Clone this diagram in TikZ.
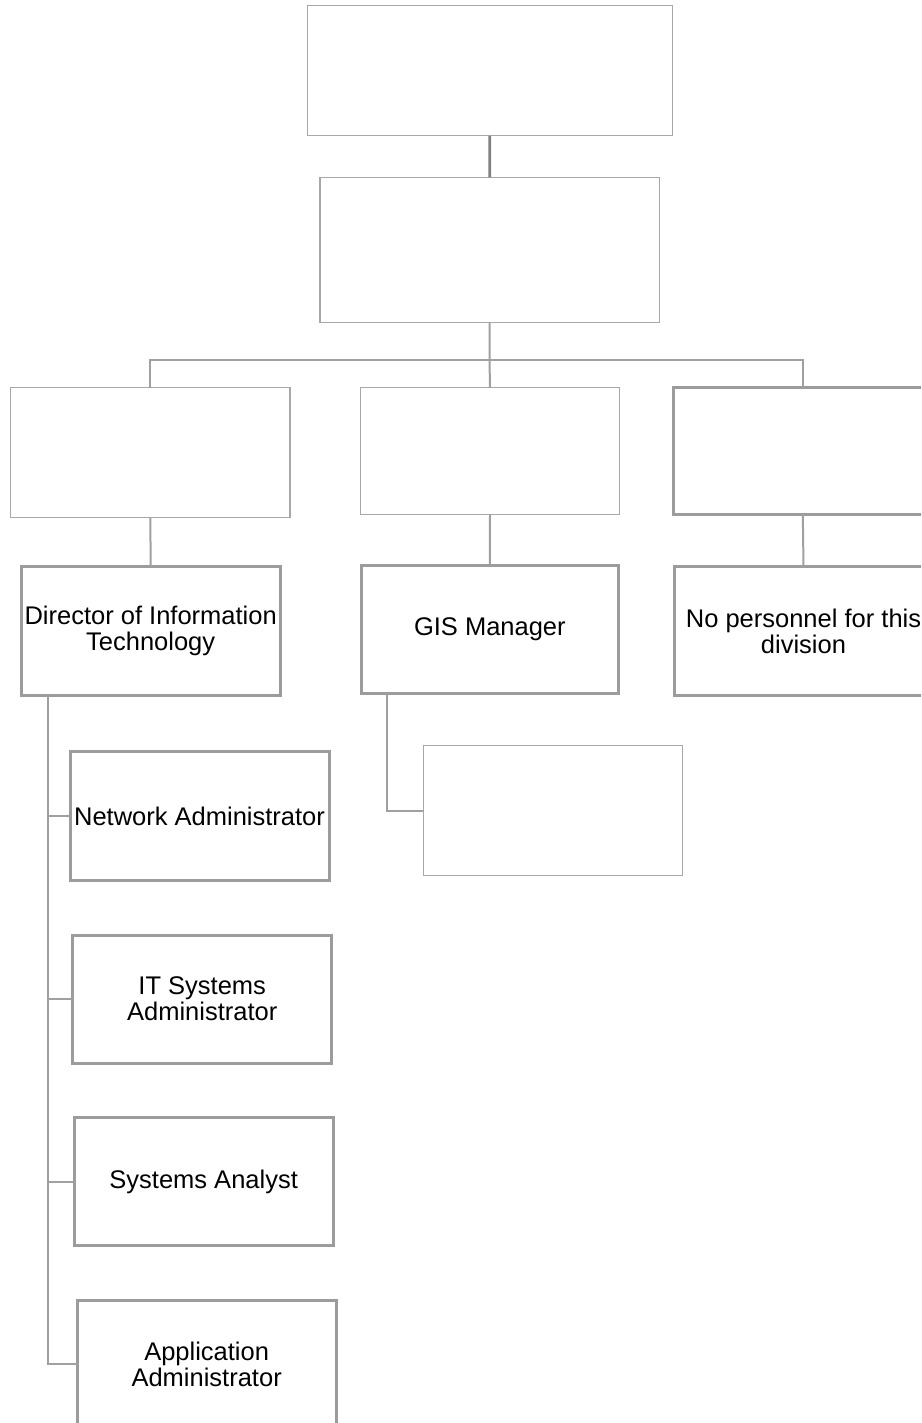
\documentclass[tikz,border=0pt]{standalone}
\usepackage{fontspec}
\setmainfont{Liberation Sans}
\usetikzlibrary{calc}
\definecolor{thinc}{HTML}{A8A8A8}
\definecolor{thickc}{HTML}{9C9C9C}
\definecolor{linec}{HTML}{A0A0A0}
\definecolor{darkc}{HTML}{808080}
\tikzset{
  base/.style={anchor=north west, inner sep=0pt, outer sep=0pt, align=center,
    font=\fontsize{25.5}{26}\selectfont, fill=white},
  thinbox/.style={base, draw=thinc, line width=1.3pt},
  thickbox/.style={base, draw=thickc, line width=3pt},
  conn/.style={draw=linec, line width=2pt},
  topconn/.style={draw=darkc, line width=2.8pt},
}
\begin{document}
\begin{tikzpicture}[x=1pt,y=-1pt]
\clip (0,0) rectangle (921,1423);
\fill[white] (0,0) rectangle (921,1423);
% boxes
\node[thinbox, minimum width=365pt, minimum height=130.5pt] (top) at (307.3,5.3) {};
\node[thinbox, minimum width=339.3pt, minimum height=145.4pt] (second) at (320,177.3) {};
\node[thinbox, minimum width=279.3pt, minimum height=129.6pt] (b3) at (10.7,387.7) {};
\node[thinbox, minimum width=258.6pt, minimum height=126.6pt] (b4) at (360.7,387.7) {};
\node[thickbox, minimum width=259pt, minimum height=126.6pt] (b5) at (673.3,387.7) {};
\node[thickbox, minimum width=258.7pt, minimum height=129pt] (dir) at (21.3,566.7) {Director of Information\\Technology};
\node[thickbox, minimum width=257.7pt, minimum height=128pt] (gis) at (361,565.7) {GIS Manager};
\node[thickbox, minimum width=259pt, minimum height=129pt] (nop) at (674,566.7) {No personnel for this\\division};
\node[thinbox, minimum width=259.4pt, minimum height=130pt] (b9) at (423.3,745.7) {};
\node[thickbox, minimum width=259pt, minimum height=129pt] (net) at (70,751.7) {Network Administrator};
\node[thickbox, minimum width=259pt, minimum height=128.3pt] (its) at (72.7,935) {IT Systems\\Administrator};
\node[thickbox, minimum width=259.3pt, minimum height=128.4pt] (sa) at (74,1117.3) {Systems Analyst};
\node[thickbox, minimum width=258.7pt, minimum height=128.4pt] (app) at (77.3,1300) {Application\\Administrator};
% connectors
\coordinate (bus) at (489.5,360);
\draw[topconn] (top.south) -- (second.north);
\draw[conn] (second.south) -- (bus);
\draw[conn] (bus) -| (b3.north);
\draw[conn] (bus) -- (b4.north);
\draw[conn] (bus) -| (b5.north);
\draw[conn] (b3.south) -- (dir.north);
\draw[conn] (b4.south) -- (gis.north);
\draw[conn] (b5.south) -- (nop.north);
\coordinate (gisS) at ($(gis.south west)+(25.7,0)$);
\draw[conn] (gisS) |- (b9.west);
\coordinate (dirS) at ($(dir.south west)+(26.4,0)$);
\draw[conn] (dirS) |- (app.west);
\draw[conn] (dirS) |- (net.west);
\draw[conn] (dirS) |- (its.west);
\draw[conn] (dirS) |- (sa.west);
\end{tikzpicture}
\end{document}
